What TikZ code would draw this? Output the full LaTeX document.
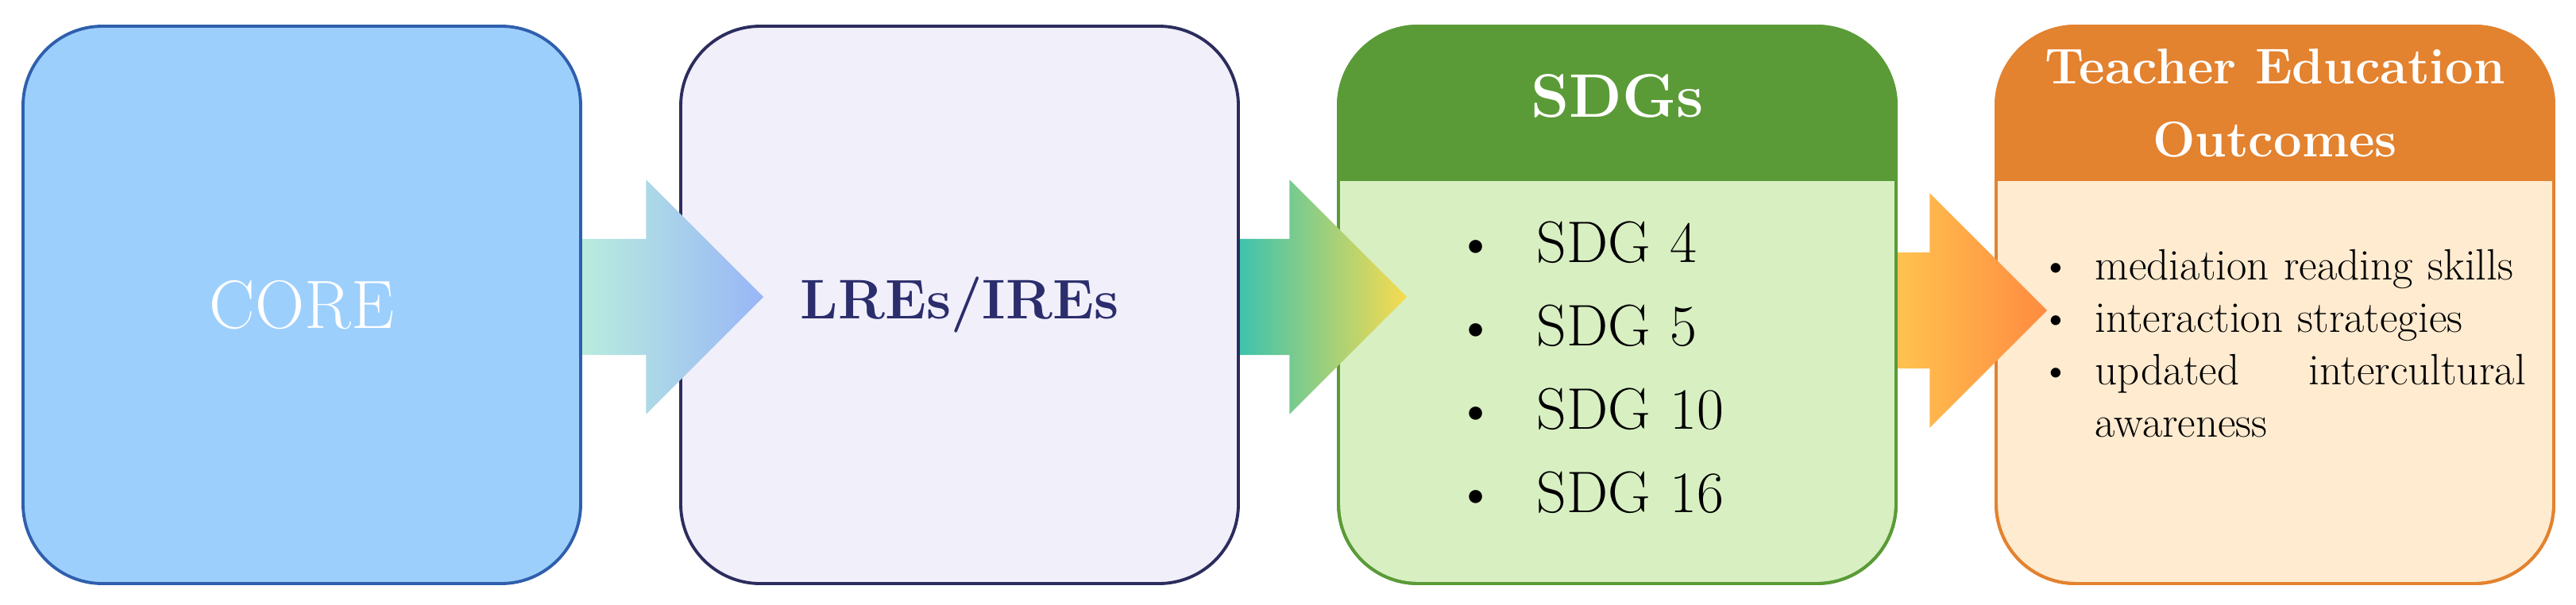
\documentclass[tikz,border=0pt]{standalone}
\usetikzlibrary{positioning,calc,shapes.arrows}

\definecolor{corefill}{HTML}{9DCFFC}
\definecolor{coreline}{HTML}{2F5FAD}
\definecolor{lrefill}{HTML}{F1EFFA}
\definecolor{lreline}{HTML}{2C2C5E}
\definecolor{lretext}{HTML}{2B2D6C}
\definecolor{sdghead}{HTML}{5A9B37}
\definecolor{sdgfill}{HTML}{D8EFC2}
\definecolor{outhead}{HTML}{E3822F}
\definecolor{outfill}{HTML}{FEEBD0}
\definecolor{aoneleft}{HTML}{B9ECDD}
\definecolor{aoneright}{HTML}{98B6F7}
\definecolor{atwoleft}{HTML}{3EC3AD}
\definecolor{atworight}{HTML}{F7DB4F}
\definecolor{athreeleft}{HTML}{FFC24F}
\definecolor{athreeright}{HTML}{FF8B40}

\newcommand{\itembullet}[1]{\makebox[0pt][r]{\textbullet\hspace{#1}}}

\begin{document}
\begin{tikzpicture}[
  box/.style={rectangle, rounded corners=1cm, minimum width=7.02cm, minimum height=7.02cm, line width=1.1pt, inner sep=0pt, outer sep=0pt},
  flowarrow/.style={single arrow, single arrow head extend=0.745cm, text height=1.45cm, text depth=0pt, inner sep=0pt, outer sep=0pt, anchor=tail},
  headtext/.style={text=white, font=\bfseries\fontsize{22}{26}\selectfont, align=center},
  listtext/.style={anchor=base west, inner sep=0pt, align=left}
]
  \useasboundingbox (0,0) rectangle (32.43,7.61);

  % Boxes
  \node[box, draw=coreline, fill=corefill, text=white, font=\fontsize{24.5}{28}\selectfont] (core) at (3.80,3.77) {CORE};
  \node[box, draw=lreline, fill=lrefill, text=lretext, font=\bfseries\fontsize{20}{24}\selectfont, right=1.26cm of core] (lre) {LREs/IREs};
  \node[box, draw=sdghead, fill=sdgfill, right=1.26cm of lre] (sdg) {};
  \node[box, draw=outhead, fill=outfill, right=1.26cm of sdg] (out) {};

  % Header bands
  \begin{scope}
    \clip[rounded corners=1cm] (sdg.south west) rectangle (sdg.north east);
    \fill[sdghead] (sdg.north west) rectangle ($(sdg.north east)+(0,-1.95)$);
  \end{scope}
  \draw[sdghead, line width=1.1pt, rounded corners=1cm] (sdg.south west) rectangle (sdg.north east);
  \begin{scope}
    \clip[rounded corners=1cm] (out.south west) rectangle (out.north east);
    \fill[outhead] (out.north west) rectangle ($(out.north east)+(0,-1.95)$);
  \end{scope}
  \draw[outhead, line width=1.1pt, rounded corners=1cm] (out.south west) rectangle (out.north east);

  % Titles
  \node[headtext] (sdgtitle) at ($(sdg.north)+(0,-0.88)$) {SDGs};
  \node[headtext, font=\bfseries\fontsize{18}{26}\selectfont] (outtitle) at ($(out.north)+(0,-0.97)$) {Teacher Education\\Outcomes};

  % Lists
  \node[listtext, text width=4cm, font=\fontsize{21}{29.9}\selectfont] (sdglist) at ($(sdg.west)+(2.49,0.54)$)
    {\itembullet{0.5cm}SDG 4\\ \itembullet{0.5cm}SDG 5\\ \itembullet{0.5cm}SDG 10\\ \itembullet{0.5cm}SDG 16};
  \node[listtext, text width=5.42cm, font=\fontsize{15.7}{18.8}\selectfont] (outlist) at ($(out.west)+(1.24,0.32)$)
    {\itembullet{0.3cm}mediation reading skills\\ \itembullet{0.3cm}interaction strategies\\ \itembullet{0.3cm}updated\hfill intercultural\\ awareness};

  % Arrows
  \node[flowarrow, minimum height=2.28cm, left color=aoneleft, right color=aoneright] (arr1) at ($(core.east)+(0.02,0.10)$) {};
  \node[flowarrow, minimum height=2.10cm, left color=atwoleft, right color=atworight] (arr2) at ($(lre.east)+(0.02,0.10)$) {};
  \node[flowarrow, minimum height=1.88cm, left color=athreeleft, right color=athreeright] (arr3) at ($(sdg.east)+(0.02,-0.07)$) {};

\end{tikzpicture}
\end{document}
